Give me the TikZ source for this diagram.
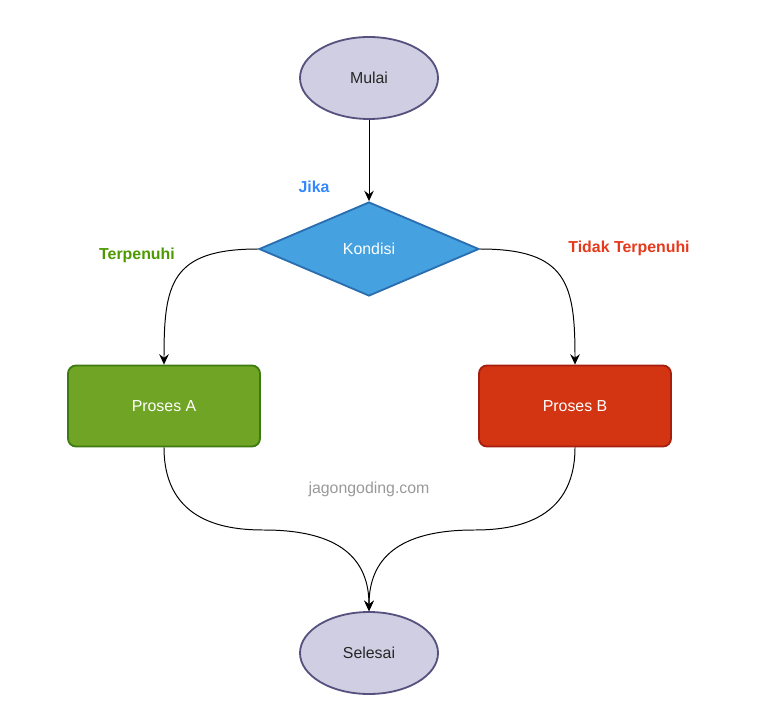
\documentclass[tikz,border=0pt]{standalone}
\usepackage{fontspec}
\setmainfont{Liberation Sans}
\usetikzlibrary{shapes.geometric}
\usetikzlibrary{arrows.meta}
\usetikzlibrary{calc}

\definecolor{ovalfill}{HTML}{D0CEE2}
\definecolor{ovaldraw}{HTML}{56517E}
\definecolor{kondfill}{HTML}{45A1DF}
\definecolor{konddraw}{HTML}{2A6EB0}
\definecolor{afill}{HTML}{6FA424}
\definecolor{adraw}{HTML}{3D7A12}
\definecolor{bfill}{HTML}{D33513}
\definecolor{bdraw}{HTML}{A51E10}
\definecolor{jikacol}{HTML}{3388FF}
\definecolor{yescol}{HTML}{4D9900}
\definecolor{nocol}{HTML}{E6391C}

\begin{document}
\begin{tikzpicture}[
        font=\fontsize{11.3}{13}\selectfont,
        terminal/.style={ellipse, draw=ovaldraw, fill=ovalfill, line width=1.3pt,
            minimum width=3.45cm, minimum height=2.05cm, inner sep=0pt, text=black!85},
        decision/.style={diamond, draw=konddraw, fill=kondfill, line width=1.3pt,
            minimum width=5.5cm, minimum height=2.35cm, inner sep=0pt, aspect=2.34, text=white},
        process/.style={rectangle, rounded corners=0.2cm, line width=1.3pt,
            minimum width=4.8cm, minimum height=2.025cm, text=white},
        flow/.style={-{Stealth[length=2.6mm,width=2.4mm,inset=0.9mm]}, line width=0.7pt},
        branch/.style={font=\fontsize{11.3}{13}\selectfont\bfseries}
    ]
        \useasboundingbox (0,0) rectangle (19.35,17.8);

        \node[terminal] (mulai) at (9.225,15.85) {Mulai};
        \node[decision] (kondisi) at (9.225,11.575) {Kondisi};
        \node[process, draw=adraw, fill=afill] (prosesA) at (4.1,7.65) {Proses A};
        \node[process, draw=bdraw, fill=bfill] (prosesB) at (14.375,7.65) {Proses B};
        \node[terminal] (selesai) at (9.225,1.475) {Selesai};

        \node[branch, text=jikacol] (jika) at (7.85,13.125) {Jika};
        \node[branch, text=yescol] (terpenuhi) at (3.425,11.425) {Terpenuhi};
        \node[branch, text=nocol] (tidak) at (15.725,11.6) {Tidak Terpenuhi};
        \node[text=black!40] (web) at (9.225,5.575) {jagongoding.com};

        \coordinate (joinA) at (6.6,4.55);
        \coordinate (joinB) at (11.85,4.55);

        \draw[flow] (mulai) -- (kondisi);
        \draw[flow] (kondisi.west) .. controls +(-2.2,0) and +(0,2.0) .. (prosesA.north);
        \draw[flow] (kondisi.east) .. controls +(2.2,0) and +(0,2.0) .. (prosesB.north);
        \draw[flow] (prosesA.south) .. controls +(0,-1.9) and +(-0.9,0) .. (joinA)
            .. controls +(1.9,0) and +(0,1.3) .. (selesai.north);
        \draw[flow] (prosesB.south) .. controls +(0,-1.9) and +(0.9,0) .. (joinB)
            .. controls +(-1.9,0) and +(0,1.3) .. (selesai.north);
\end{tikzpicture}
\end{document}
